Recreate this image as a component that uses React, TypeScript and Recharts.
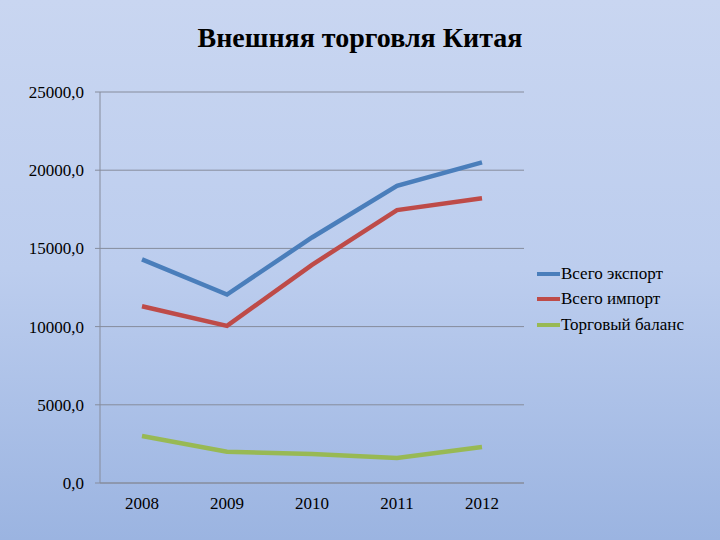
import React from 'react';
import { LineChart, Line, XAxis, YAxis, CartesianGrid } from 'recharts';

const years = ['2008', '2009', '2010', '2011', '2012'];
const exportTotal = [14300, 12050, 15700, 19000, 20500];
const importTotal = [11300, 10050, 13950, 17450, 18200];
const tradeBalance = [3000, 2000, 1850, 1600, 2300];
const yTicks = [0, 5000, 10000, 15000, 20000, 25000];

const seriesInfo = [
  { key: 'exp', name: 'Всего экспорт', color: '#4a7ebb' },
  { key: 'imp', name: 'Всего импорт', color: '#be4b48' },
  { key: 'bal', name: 'Торговый баланс', color: '#98b954' },
];

const data = years.map((year, i) => ({
  year,
  exp: exportTotal[i],
  imp: importTotal[i],
  bal: tradeBalance[i],
}));

const fontFamily = '"Liberation Serif", "Times New Roman", Times, serif';

const formatTick = (v: number) => v.toFixed(1).replace('.', ',');

export default function App() {
  return (
    <div
      style={{
        position: 'absolute',
        left: 0,
        top: 0,
        width: 720,
        height: 540,
        background: 'linear-gradient(to bottom, #c9d6f1 0%, #bccdee 50%, #9bb4e1 100%)',
      }}
    >
      <div
        style={{
          position: 'absolute',
          left: 0,
          top: 22,
          width: 720,
          textAlign: 'center',
          fontFamily,
          fontWeight: 'bold',
          fontSize: 28,
          color: '#000',
        }}
      >
        Внешняя торговля Китая
      </div>
      <LineChart width={720} height={540} data={data} margin={{ top: 92, right: 196, bottom: 27, left: 0 }}>
        <CartesianGrid vertical={false} stroke="#868c9c" strokeWidth={1} />
        <XAxis
          dataKey="year"
          height={30}
          padding={{ left: 42, right: 42 }}
          stroke="#868c9c"
          tickLine={false}
          tickSize={5}
          tickMargin={9}
          tick={{ fill: '#000', fontSize: 17, fontFamily }}
        />
        <YAxis
          width={100}
          domain={[0, 25000]}
          ticks={yTicks}
          tickFormatter={formatTick}
          stroke="#868c9c"
          tickSize={5}
          tickMargin={11}
          tick={{ fill: '#000', fontSize: 17, fontFamily }}
        />
        {seriesInfo.map(s => (
          <Line
            key={s.key}
            type="linear"
            dataKey={s.key}
            name={s.name}
            stroke={s.color}
            strokeWidth={4.5}
            dot={false}
            activeDot={false}
            isAnimationActive={false}
          />
        ))}
      </LineChart>
      <div style={{ position: 'absolute', left: 537, top: 261, fontFamily, fontSize: 17, color: '#000' }}>
        {seriesInfo.map(s => (
          <div key={s.key} style={{ display: 'flex', alignItems: 'center', height: 25.5 }}>
            <span style={{ display: 'inline-block', width: 23, height: 4, background: s.color, marginRight: 1 }} />
            <span>{s.name}</span>
          </div>
        ))}
      </div>
    </div>
  );
}
